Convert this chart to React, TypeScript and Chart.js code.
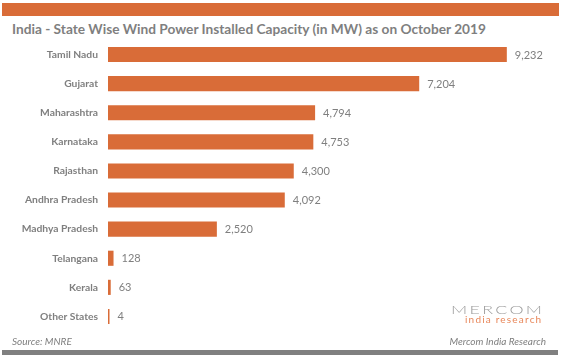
import React, { useEffect, useRef } from "react";
import { Chart, registerables } from "chart.js";

Chart.register(...registerables);

const states = [
  "Tamil Nadu",
  "Gujarat",
  "Maharashtra",
  "Karnataka",
  "Rajasthan",
  "Andhra Pradesh",
  "Madhya Pradesh",
  "Telangana",
  "Kerala",
  "Other States",
];
const capacityMW = [9232, 7204, 4794, 4753, 4300, 4092, 2520, 128, 63, 4];

const ORANGE = "#D96C38";
const GRAY = "#7F7F7F";
const FONT = "Lato, 'Liberation Sans', sans-serif";

const valueLabels = {
  id: "valueLabels",
  afterDatasetsDraw(chart: any) {
    const ctx = chart.ctx;
    const meta = chart.getDatasetMeta(0);
    ctx.save();
    ctx.fillStyle = GRAY;
    ctx.font = `11px ${FONT}`;
    ctx.textAlign = "left";
    ctx.textBaseline = "middle";
    meta.data.forEach((bar: any, i: number) => {
      const v = chart.data.datasets[0].data[i] as number;
      ctx.fillText(v.toLocaleString("en-US"), bar.x + 8, bar.y + 0.5);
    });
    ctx.restore();
  },
};

export default function App() {
  const ref = useRef<HTMLCanvasElement | null>(null);

  useEffect(() => {
    if (!ref.current) return;
    const chart = new Chart(ref.current, {
      type: "bar",
      data: {
        labels: states,
        datasets: [
          {
            data: capacityMW,
            backgroundColor: ORANGE,
            borderWidth: 0,
            barPercentage: 0.52,
            categoryPercentage: 1,
            minBarLength: 1.5,
          },
        ],
      },
      options: {
        indexAxis: "y",
        animation: false,
        responsive: false,
        maintainAspectRatio: false,
        layout: { padding: { top: 40, bottom: 28, left: 0, right: 21 } },
        plugins: {
          legend: { display: false },
          tooltip: { enabled: false },
        },
        scales: {
          x: {
            display: false,
            min: 0,
            max: 10000,
          },
          y: {
            grid: { display: false, drawTicks: false },
            border: { display: false },
            ticks: {
              color: GRAY,
              padding: 10,
              font: { family: FONT, size: 10.3, weight: "bold" },
            },
            afterFit(scale: any) {
              scale.width = 108;
            },
          },
        },
      },
      plugins: [valueLabels],
    });
    return () => chart.destroy();
  }, []);

  return (
    <div
      style={{
        position: "fixed",
        left: 0,
        top: 0,
        width: 561,
        height: 359,
        background: "#fff",
        overflow: "hidden",
        fontFamily: FONT,
      }}
    >
      <div
        style={{
          position: "absolute",
          left: 2,
          top: 3,
          width: 557,
          height: 13,
          background: ORANGE,
        }}
      />
      <div
        style={{
          position: "absolute",
          left: 12,
          top: 20,
          fontSize: 13.7,
          fontWeight: "bold",
          color: "#7F7F7F",
          whiteSpace: "nowrap",
        }}
      >
        India - State Wise Wind Power Installed Capacity (in MW) as on October 2019
      </div>
      <canvas
        ref={ref}
        width={561}
        height={359}
        style={{ position: "absolute", left: 0, top: 0, width: 561, height: 359 }}
      />
      <div
        style={{
          position: "absolute",
          left: 451,
          top: 303,
          fontSize: 11.5,
          fontWeight: 300,
          letterSpacing: 1.5,
          color: "#9a9a9a",
          lineHeight: "14px",
          whiteSpace: "nowrap",
          transform: "scaleX(1.55)",
          transformOrigin: "left center",
        }}
      >
        MERCOM
      </div>
      <div
        style={{
          position: "absolute",
          left: 465,
          top: 313,
          fontSize: 10,
          color: "#E8875A",
          lineHeight: "12px",
          letterSpacing: 1.2,
          whiteSpace: "nowrap",
        }}
      >
        india research
      </div>
      <div
        style={{
          position: "absolute",
          left: 12,
          top: 334,
          fontSize: 10,
          fontStyle: "italic",
          color: GRAY,
          lineHeight: "14px",
          whiteSpace: "nowrap",
        }}
      >
        Source: MNRE
      </div>
      <div
        style={{
          position: "absolute",
          right: 15,
          top: 334,
          fontSize: 10,
          fontStyle: "italic",
          color: GRAY,
          lineHeight: "14px",
          whiteSpace: "nowrap",
        }}
      >
        Mercom India Research
      </div>
      <div
        style={{
          position: "absolute",
          left: 2,
          top: 350,
          width: 556,
          height: 5,
          background: "#808080",
        }}
      />
    </div>
  );
}
